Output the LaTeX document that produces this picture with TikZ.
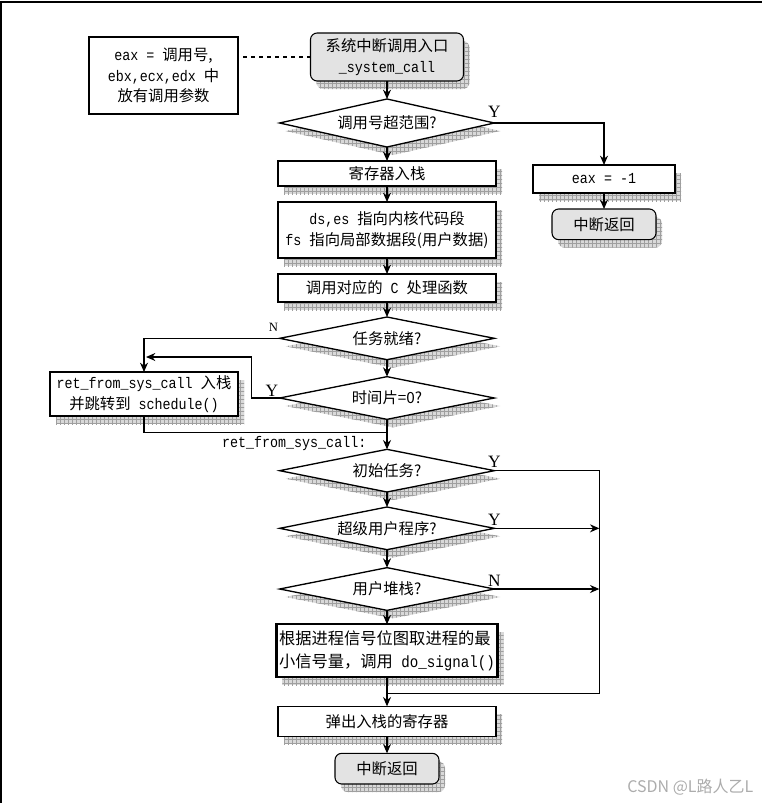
\documentclass[tikz,border=0pt]{standalone}
\usepackage{fontspec}
\setmainfont{Liberation Serif}
\newfontfamily\cjk{Noto Sans CJK SC}
\newfontfamily\cdfont[FakeStretch=0.87]{Liberation Mono}
\newcommand{\cd}[1]{{\cdfont #1}}
\usetikzlibrary{shapes.geometric, arrows.meta, positioning, calc, shadows, patterns}

\tikzset{
  gridshadow/.style={general shadow={fill=gray!30, shadow xshift=4.5pt, shadow yshift=-6pt,
      postaction={pattern=grid, pattern color=gray!75}}},
  plainbox/.style={draw, line width=0.8pt, fill=white, outer sep=0pt, minimum width=163.5pt,
      minimum height=21pt, align=center, inner sep=2pt},
  procbox/.style={plainbox, gridshadow},
  termbox/.style={procbox, rounded corners=5pt, fill=gray!22, minimum width=78pt, minimum height=23pt},
  decision/.style={draw, diamond, aspect=5, line width=1pt, fill=white, gridshadow, outer sep=0pt,
      minimum width=161pt, minimum height=32pt, inner sep=0pt},
  flow/.style={-{Stealth[length=7pt, width=6pt]}, line width=1pt},
  yn/.style={font=\rmfamily\fontsize{13}{13}\selectfont, inner sep=1pt},
}

\begin{document}
\begin{tikzpicture}[x=0.75pt, y=-0.75pt, node distance=12pt, font=\cjk\fontsize{11.5}{15.5}\selectfont]
        \useasboundingbox (0,0) rectangle (762,803);
        % Frame
        \draw[line width=1.5pt] (1,803) -- (1,2) -- (762,2);

        % Main column
        \node[termbox, minimum width=114.75pt, minimum height=36pt] (entry) at (387,57) {系统中断调用入口\\\cd{\_system\_call}};
        \node[decision, minimum height=36pt, below=13.5pt of entry] (range) {调用号超范围?};
        \node[procbox, minimum height=18.75pt, below=10.5pt of range] (push) {寄存器入栈};
        \node[procbox, minimum height=42pt, below=of push] (seg) {\cd{ds,es }指向内核代码段\\\cd{fs }指向局部数据段(用户数据)};
        \node[procbox, below=of seg] (callc) {调用对应的\cd{ C }处理函数};
        \node[decision, below=11.25pt of callc] (ready) {任务就绪?};
        \node[decision, below=12.75pt of ready] (slice) {时间片=0?};
        \node[decision, below=22.5pt of slice] (init) {初始任务?};
        \node[decision, below=11.25pt of init] (super) {超级用户程序?};
        \node[decision, below=13.5pt of super] (ustack) {用户堆栈?};
        \node[procbox, line width=1.6pt, minimum height=39.75pt, align=left,
              font=\cjk\fontsize{12.2}{17}\selectfont, below=10.5pt of ustack] (signal) {根据进程信号位图取进程的最\\小信号量，调用\cd{ do\_signal()}};
        \node[procbox, minimum height=22.5pt, below=21.75pt of signal] (pop) {弹出入栈的寄存器};
        \node[termbox, below=12.75pt of pop] (ret2) {中断返回};

        % Side nodes
        \node[plainbox, minimum width=111.75pt, minimum height=57.75pt] (regs) at (163.5,75.5) {\cd{eax = }调用号,\\\cd{ebx,ecx,edx }中\\放有调用参数};
        \node[procbox, minimum width=106.5pt] (eax) at (604,179) {\cd{eax = -1}};
        \node[termbox, below=12pt of eax] (ret1) {中断返回};
        \node[procbox, minimum width=141pt, minimum height=33pt] (sched) at (144,394) {\cd{ret\_from\_sys\_call }入栈\\并跳转到\cd{ schedule()}};

        % Arrows
        \draw[dashed, line width=0.8pt] (entry.west) -- (entry.west -| regs.east);
        \draw[flow] (entry) -- (range);
        \draw[flow] (range) -- (push);
        \draw[flow] (push) -- (seg);
        \draw[flow] (seg) -- (callc);
        \draw[flow] (callc) -- (ready);
        \draw[flow] (ready) -- (slice);
        \draw[flow] (range.east) -| (eax.north);
        \draw[flow] (eax) -- (ret1);
        \draw[flow] (ready.west) -| (sched.north);
        \draw[flow] (slice.west) -- ++(-28,0) |- ($(sched.north)+(2,-15)$);
        \coordinate (join) at ($(slice.south)+(0,13)$);
        \draw[line width=1pt] (sched.south) |- (join);
        \draw[flow] (slice) -- (init);
        \draw[flow] (init) -- (super);
        \draw[flow] (super) -- (ustack);
        \draw[flow] (ustack) -- (signal);
        \coordinate (railtop) at ($(init.east)+(105,0)$);
        \coordinate (railend) at ($(signal.south)!0.55!(pop.north)$);
        \draw[line width=1pt] (init.east) -- (railtop) |- (railend);
        \draw[flow] (super.east) -- (super.east -| railtop);
        \draw[flow] (ustack.east) -- (ustack.east -| railtop);
        \draw[flow] (signal) -- (pop);
        \draw[flow] (pop) -- (ret2);

        % Labels
        \node[yn, above=3pt of range.east] (yrange) {Y};
        \node[yn, font=\rmfamily\fontsize{9.5}{10}\selectfont, above left=4pt and 0pt of ready.west] (nready) {N};
        \node[yn, above left=0pt and 0pt of slice.west] (yslice) {Y};
        \node[yn, above=1pt of init.east] (yinit) {Y};
        \node[yn, above=1pt of super.east] (ysuper) {Y};
        \node[yn, above=1pt of ustack.east] (nustack) {N};
        \node[anchor=east, font=\cdfont\fontsize{11.5}{12}\selectfont] (retlab) at ($(init.north)+(-16,-6)$) {ret\_from\_sys\_call:};

        % Watermark
        \node[anchor=east, text=gray!65, font=\cjk\fontsize{12}{12}\selectfont] (mark) at (758,787) {CSDN @L路人乙L};
    \end{tikzpicture}
\end{document}
